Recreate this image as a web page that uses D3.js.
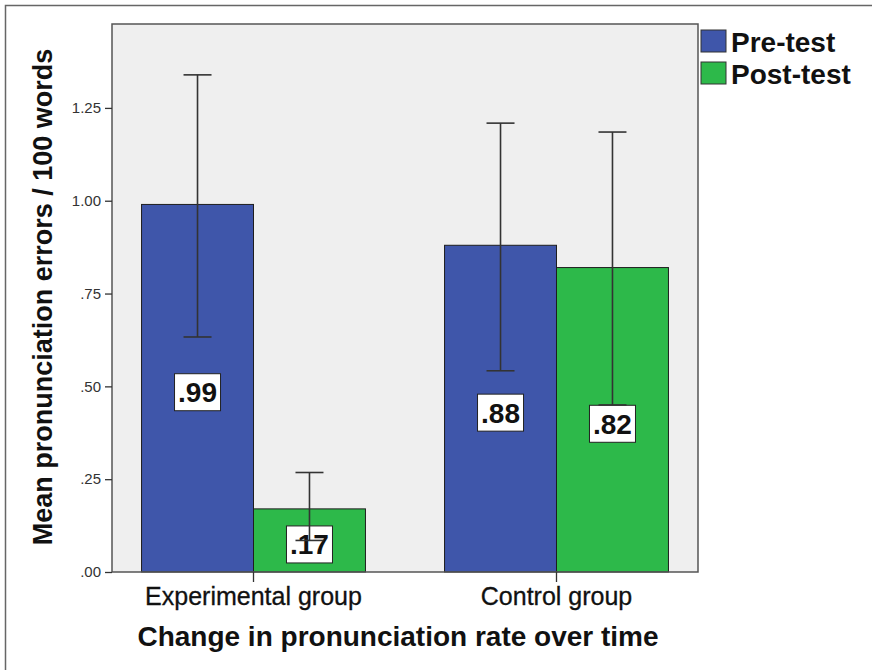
<!DOCTYPE html>
<html>
<head>
<meta charset="utf-8">
<script src="https://cdn.jsdelivr.net/npm/d3@7"></script>
<style>
  html, body { margin: 0; padding: 0; background: #fff; }
  svg { display: block; font-family: "Liberation Sans", Arial, sans-serif; }
</style>
</head>
<body>
<svg id="chart" width="872" height="670"></svg>
<script>
// Groups and test phases
const groups = ["Experimental group", "Control group"];
const phases = ["Pre-test", "Post-test"];

// Mean pronunciation errors per 100 words
const preMeans  = [0.99, 0.88];
const postMeans = [0.17, 0.82];

// Error bar ends (lower, upper)
const preLow   = [0.633, 0.542];
const preHigh  = [1.339, 1.209];
const postLow  = [0.085, 0.450];
const postHigh = [0.268, 1.185];

// Y axis ticks
const yTicks = [0, 0.25, 0.5, 0.75, 1.0, 1.25];

const colors = { "Pre-test": "#3f56aa", "Post-test": "#2db94a" };

const rows = groups.map((g, i) => ({
  group: g,
  values: [
    { phase: "Pre-test",  mean: preMeans[i],  lo: preLow[i],  hi: preHigh[i] },
    { phase: "Post-test", mean: postMeans[i], lo: postLow[i], hi: postHigh[i] }
  ]
}));

const svg = d3.select("#chart");
const plot = { left: 112, right: 698, top: 24, bottom: 572 };

// Outer frame
svg.append("rect")
  .attr("x", 5.5).attr("y", 5.5)
  .attr("width", 900).attr("height", 700)
  .attr("fill", "none").attr("stroke", "#666").attr("stroke-width", 1.5);

const x0 = d3.scaleBand()
  .domain(groups)
  .range([plot.left, plot.right])
  .paddingInner(0.261)
  .paddingOuter(0.0975);

const x1 = d3.scaleBand()
  .domain(phases)
  .range([0, x0.bandwidth()]);

const y = d3.scaleLinear()
  .domain([0, 1.476])
  .range([plot.bottom, plot.top]);

// Plot background
svg.append("rect")
  .attr("x", plot.left).attr("y", plot.top)
  .attr("width", plot.right - plot.left)
  .attr("height", plot.bottom - plot.top)
  .attr("fill", "#efefef");

// Bars
const g = svg.append("g");
const groupSel = g.selectAll("g.grp")
  .data(rows).join("g")
  .attr("class", "grp")
  .attr("transform", d => `translate(${x0(d.group)},0)`);

groupSel.selectAll("rect.bar")
  .data(d => d.values).join("rect")
  .attr("class", "bar")
  .attr("x", d => x1(d.phase))
  .attr("y", d => y(d.mean))
  .attr("width", x1.bandwidth())
  .attr("height", d => y(0) - y(d.mean))
  .attr("fill", d => colors[d.phase])
  .attr("stroke", "#1e1e1e")
  .attr("stroke-width", 1);

// Value labels in boxes at mid-bar
const fmt = v => d3.format(".2f")(v).replace(/^0\./, ".");
const boxW = 46, boxH = 37;
const labels = groupSel.selectAll("g.lbl")
  .data(d => d.values).join("g")
  .attr("class", "lbl")
  .attr("transform", d => `translate(${x1(d.phase) + x1.bandwidth() / 2},${y(d.mean / 2) + 4})`);
labels.append("rect")
  .attr("x", -boxW / 2).attr("y", -boxH / 2)
  .attr("width", boxW).attr("height", boxH)
  .attr("fill", "#fff").attr("stroke", "#222").attr("stroke-width", 1);
labels.append("text")
  .attr("text-anchor", "middle")
  .attr("y", 10)
  .attr("font-size", 28).attr("font-weight", "bold")
  .attr("fill", "#111")
  .text(d => fmt(d.mean));

// Error bars
const capW = 28;
const err = groupSel.selectAll("g.err")
  .data(d => d.values).join("g")
  .attr("class", "err")
  .attr("transform", d => `translate(${x1(d.phase) + x1.bandwidth() / 2},0)`)
  .attr("stroke", "#333").attr("stroke-width", 1.6);
err.append("line")
  .attr("x1", 0).attr("x2", 0)
  .attr("y1", d => y(d.lo)).attr("y2", d => y(d.hi));
err.append("line")
  .attr("x1", -capW / 2).attr("x2", capW / 2)
  .attr("y1", d => y(d.hi)).attr("y2", d => y(d.hi));
err.append("line")
  .attr("x1", -capW / 2).attr("x2", capW / 2)
  .attr("y1", d => y(d.lo)).attr("y2", d => y(d.lo));

// Plot frame
svg.append("rect")
  .attr("x", plot.left).attr("y", plot.top)
  .attr("width", plot.right - plot.left)
  .attr("height", plot.bottom - plot.top)
  .attr("fill", "none").attr("stroke", "#555").attr("stroke-width", 1.5);

// Y axis
const yAxis = d3.axisLeft(y)
  .tickValues(yTicks)
  .tickSize(7)
  .tickPadding(4)
  .tickFormat(fmt);
const ya = svg.append("g")
  .attr("transform", `translate(${plot.left},0)`)
  .call(yAxis);
ya.select(".domain").remove();
ya.selectAll("line").attr("stroke", "#333").attr("stroke-width", 1.3);
ya.selectAll("text")
  .attr("font-size", 15)
  .attr("fill", "#333")
  .attr("font-family", "'Liberation Sans', Arial, sans-serif");

// X axis
const xAxis = d3.axisBottom(x0).tickSize(10).tickPadding(5);
const xa = svg.append("g")
  .attr("transform", `translate(0,${plot.bottom})`)
  .call(xAxis);
xa.select(".domain").remove();
xa.selectAll("line").attr("stroke", "#333").attr("stroke-width", 1.3);
xa.selectAll("text")
  .attr("font-size", 25)
  .attr("fill", "#111")
  .attr("stroke", "#111").attr("stroke-width", 0.3)
  .attr("font-family", "'Liberation Sans', Arial, sans-serif");

// Axis titles
svg.append("text")
  .attr("x", 398).attr("y", 646)
  .attr("text-anchor", "middle")
  .attr("font-size", 28).attr("font-weight", "bold")
  .attr("fill", "#111")
  .text("Change in pronunciation rate over time");

svg.append("text")
  .attr("transform", "translate(52,297) rotate(-90)")
  .attr("text-anchor", "middle")
  .attr("font-size", 27).attr("font-weight", "bold")
  .attr("fill", "#111")
  .text("Mean pronunciation errors / 100 words");

// Legend
const legend = svg.append("g");
const li = legend.selectAll("g")
  .data(phases).join("g")
  .attr("transform", (d, i) => `translate(701,${30 + i * 32})`);
li.append("rect")
  .attr("width", 25).attr("height", 22)
  .attr("fill", d => colors[d])
  .attr("stroke", "#333").attr("stroke-width", 1);
li.append("text")
  .attr("x", 30).attr("y", 22)
  .attr("font-size", 28).attr("font-weight", "bold")
  .attr("fill", "#111")
  .text(d => d);
</script>
</body>
</html>
